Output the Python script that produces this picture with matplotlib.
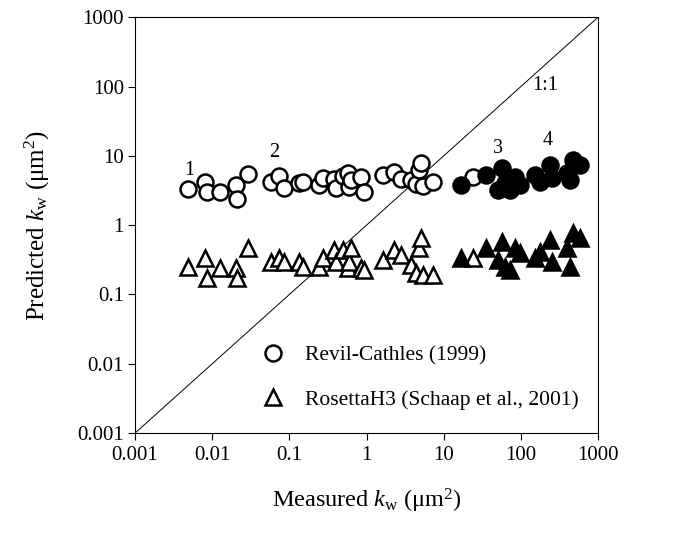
import matplotlib
matplotlib.use("Agg")
import matplotlib.pyplot as plt
import numpy as np

plt.rcParams['font.family'] = ['Liberation Serif', 'DejaVu Serif']
plt.rcParams['mathtext.fontset'] = 'custom'
plt.rcParams['mathtext.rm'] = 'Liberation Serif'
plt.rcParams['mathtext.it'] = 'Liberation Serif:italic'

# Open symbols (groups 1 and 2): measured kw, Revil-Cathles prediction, RosettaH3 prediction
meas_open = [0.0048, 0.0080, 0.0085, 0.0125, 0.0201, 0.0207, 0.0287,
             0.0586, 0.0743, 0.0862, 0.135, 0.152, 0.244, 0.275, 0.381, 0.404,
             0.498, 0.577, 0.595, 0.631, 0.849, 0.928, 1.63, 2.26, 2.79,
             3.75, 4.35, 4.76, 5.05, 5.36, 7.21, 23.7]
rc_open = [3.30, 4.16, 2.98, 2.98, 3.76, 2.36, 5.43,
           4.16, 5.08, 3.41, 4.02, 4.16, 3.76, 4.75, 4.60, 3.41,
           5.08, 5.61, 3.52, 4.45, 4.91, 2.98, 5.25, 5.80, 4.60,
           4.45, 3.89, 6.20, 7.82, 3.64, 4.16, 4.91]
ros_open = [0.247, 0.333, 0.171, 0.239, 0.239, 0.171, 0.464,
            0.291, 0.333, 0.291, 0.291, 0.247, 0.247, 0.333, 0.434, 0.291,
            0.434, 0.239, 0.291, 0.464, 0.239, 0.223, 0.311, 0.434, 0.368,
            0.264, 0.202, 0.464, 0.647, 0.189, 0.189, 0.333]

# Filled symbols (groups 3 and 4)
meas_fill = [16.6, 34.8, 49.8, 57.7, 63.1, 73.2, 84.9, 98.5,
             154, 178, 240, 255, 398, 435, 476, 586]
rc_fill = [3.76, 5.25, 3.19, 6.62, 4.02, 3.19, 4.91, 3.76,
           5.25, 4.16, 7.32, 4.75, 5.61, 4.45, 8.64, 7.32]
ros_fill = [0.333, 0.464, 0.311, 0.566, 0.247, 0.223, 0.464, 0.393,
            0.333, 0.406, 0.605, 0.291, 0.464, 0.247, 0.764, 0.647]

ticks = [0.001, 0.01, 0.1, 1, 10, 100, 1000]
tick_labels = ['0.001', '0.01', '0.1', '1', '10', '100', '1000']

fig = plt.figure(figsize=(6.89, 5.38), dpi=100)
ax = fig.add_axes([0.196, 0.195, 0.672, 0.773])

ax.plot([0.001, 1000], [0.001, 1000], color='black', lw=0.7, zorder=1)

ms = 11.5
mew = 1.8
ax.plot(meas_open, rc_open, 'o', ms=ms, mfc='white', mec='black', mew=mew,
        ls='none', zorder=3)
ax.plot(meas_open, ros_open, '^', ms=ms, mfc='white', mec='black', mew=mew,
        ls='none', zorder=3)
ax.plot(meas_fill, rc_fill, 'o', ms=ms, mfc='black', mec='black', mew=mew,
        ls='none', zorder=3)
ax.plot(meas_fill, ros_fill, '^', ms=ms, mfc='black', mec='black', mew=mew,
        ls='none', zorder=3)

ax.set_xscale('log')
ax.set_yscale('log')
ax.set_xlim(0.001, 1000)
ax.set_ylim(0.001, 1000)
ax.set_xticks(ticks)
ax.set_xticklabels(tick_labels)
ax.set_yticks(ticks)
ax.set_yticklabels(tick_labels)
ax.minorticks_off()
ax.tick_params(axis='both', direction='out', length=5, width=0.8,
               labelsize=15, top=False, right=False)
ax.tick_params(axis='x', pad=4)
ax.tick_params(axis='y', pad=3)

ax.set_xlabel(r"Measured $k_{\rm w}$ (μm$^2$)", fontsize=17.5, labelpad=16)
ax.set_ylabel(r"Predicted $k_{\rm w}$ (μm$^2$)", fontsize=18, labelpad=18)

ax.text(0.0051, 6.2, '1', fontsize=14.5, ha='center', va='center')
ax.text(0.064, 11.3, '2', fontsize=14.5, ha='center', va='center')
ax.text(49.8, 12.9, '3', fontsize=14.5, ha='center', va='center')
ax.text(220, 16.8, '4', fontsize=14.5, ha='center', va='center')
ax.text(207, 104, '1:1', fontsize=14.5, ha='center', va='center')

h1, = ax.plot([], [], 'o', ms=ms, mfc='white', mec='black', mew=mew, ls='none')
h2, = ax.plot([], [], '^', ms=ms, mfc='white', mec='black', mew=mew, ls='none')
ax.legend([h1, h2], ['Revil-Cathles (1999)', 'RosettaH3 (Schaap et al., 2001)'],
          loc='lower right', bbox_to_anchor=(1.0, 0.01), frameon=False,
          fontsize=15.5, handletextpad=0.5, labelspacing=1.1)

for s in ax.spines.values():
    s.set_linewidth(0.8)

fig.savefig('out.png', dpi=100)
